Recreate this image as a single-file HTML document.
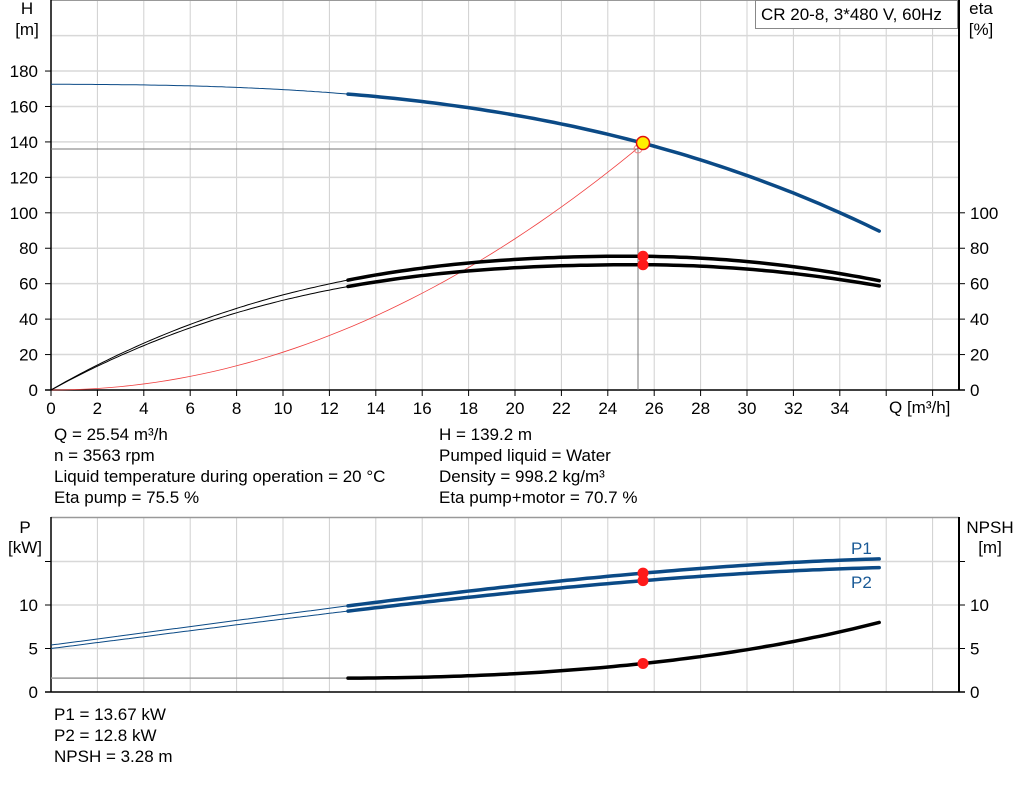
<!DOCTYPE html>
<html><head><meta charset="utf-8"><style>
body{margin:0;background:#fff;width:1024px;height:781px;overflow:hidden}
svg{font-family:"Liberation Sans",Arial,sans-serif;font-size:17px}
</style></head><body>
<svg id="s" width="1024" height="781" xmlns="http://www.w3.org/2000/svg">
<rect width="1024" height="781" fill="#fff"/>
<g id="grid"></g>
<g id="curves"></g>
<g id="txt" fill="#000">
<text x="27" y="14" text-anchor="middle">H</text><text x="27" y="35" text-anchor="middle">[m]</text>
<text x="981" y="14" text-anchor="middle">eta</text><text x="981" y="35" text-anchor="middle">[%]</text>
<text x="889" y="413">Q [m³/h]</text>
<text x="54" y="440">Q = 25.54 m³/h</text>
<text x="54" y="461">n = 3563 rpm</text>
<text x="54" y="482">Liquid temperature during operation = 20 °C</text>
<text x="54" y="503">Eta pump = 75.5 %</text>
<text x="439" y="440">H = 139.2 m</text>
<text x="439" y="461">Pumped liquid = Water</text>
<text x="439" y="482">Density = 998.2 kg/m³</text>
<text x="439" y="503">Eta pump+motor = 70.7 %</text>
<text x="25" y="533" text-anchor="middle">P</text><text x="25" y="553" text-anchor="middle">[kW]</text>
<text x="990" y="533" text-anchor="middle">NPSH</text><text x="990" y="553" text-anchor="middle">[m]</text>
<text x="54" y="720">P1 = 13.67 kW</text>
<text x="54" y="741">P2 = 12.8 kW</text>
<text x="54" y="762">NPSH = 3.28 m</text>
<text x="851" y="554" fill="#1a5a96">P1</text>
<text x="851" y="588" fill="#1a5a96">P2</text>
</g>
<rect x="755.5" y="0.5" width="202" height="28" fill="#fff" stroke="#888"/>
<text x="761" y="20">CR 20-8, 3*480 V, 60Hz</text>
</svg>
<script>
var NS="http://www.w3.org/2000/svg",g=document.getElementById('grid'),c=document.getElementById('curves'),T=document.getElementById('txt');
function el(p,tag,a){var e=document.createElementNS(NS,tag);for(var k in a)e.setAttribute(k,a[k]);p.appendChild(e);return e}
function X(q){return 51+23.2*q}
function Y1(h){return 390-1.772*h}
function Y2(p){return 692-8.7*p}
for(var q=2;q<=38;q+=2)el(g,'line',{x1:X(q),x2:X(q),y1:0,y2:390,stroke:'#d0d0d0'});
for(var h=20;h<=200;h+=20)el(g,'line',{x1:51,x2:959,y1:Y1(h),y2:Y1(h),stroke:'#d8d8d8','stroke-width':1.5});
el(g,'line',{x1:51,x2:959,y1:0.5,y2:0.5,stroke:'#999'});
el(g,'line',{x1:51,x2:51,y1:0,y2:390,stroke:'#000','stroke-width':1.5});
el(g,'line',{x1:959,x2:959,y1:0,y2:390,stroke:'#000','stroke-width':2});
el(g,'line',{x1:45,x2:965,y1:390,y2:390,stroke:'#000','stroke-width':1.5});
for(var q=0;q<=38;q+=2){el(g,'line',{x1:X(q),x2:X(q),y1:390,y2:396,stroke:'#000'});if(q<=34)el(T,'text',{x:X(q),y:414,'text-anchor':'middle'}).textContent=q;}
for(var h=0;h<=180;h+=20){el(g,'line',{x1:45,x2:51,y1:Y1(h),y2:Y1(h),stroke:'#000'});el(T,'text',{x:38,y:Y1(h)+6,'text-anchor':'end'}).textContent=h;}
for(var h=0;h<=100;h+=20){el(g,'line',{x1:959,x2:965,y1:Y1(h),y2:Y1(h),stroke:'#000'});el(T,'text',{x:970,y:Y1(h)+6}).textContent=h;}
for(var q=2;q<=38;q+=2)el(g,'line',{x1:X(q),x2:X(q),y1:517,y2:692,stroke:'#d0d0d0'});
for(var p=5;p<=15;p+=5)el(g,'line',{x1:51,x2:959,y1:Y2(p),y2:Y2(p),stroke:'#d8d8d8','stroke-width':1.5});
el(g,'line',{x1:51,x2:959,y1:517.5,y2:517.5,stroke:'#999','stroke-width':1.5});
el(g,'line',{x1:51,x2:51,y1:517,y2:692,stroke:'#000','stroke-width':1.5});
el(g,'line',{x1:959,x2:959,y1:517,y2:692,stroke:'#000','stroke-width':2});
el(g,'line',{x1:45,x2:965,y1:692,y2:692,stroke:'#000','stroke-width':1.5});
for(var p=0;p<=15;p+=5){el(g,'line',{x1:45,x2:51,y1:Y2(p),y2:Y2(p),stroke:'#000'});el(g,'line',{x1:959,x2:965,y1:Y2(p),y2:Y2(p),stroke:'#000'});
 if(p<15){el(T,'text',{x:38,y:Y2(p)+6,'text-anchor':'end'}).textContent=p;el(T,'text',{x:970,y:Y2(p)+6}).textContent=p;}}
function path(f,yf,a,b){var s='';for(var q=a;q<=b+1e-9;q+=(b-a)/80){s+=(s?'L':'M')+X(q).toFixed(1)+','+yf(f(q)).toFixed(1)}return s}
function draw(f,yf,col){el(c,'path',{d:path(f,yf,0,12.8),fill:'none',stroke:col,'stroke-width':1});
 el(c,'path',{d:path(f,yf,12.8,35.7),fill:'none',stroke:col,'stroke-width':3.5,'stroke-linecap':'round'});}
function H(q){return 172.5-0.01601*q*q-0.001372*q*q*q}
var E1=function(q){var u=q/25;return 75.5*(2*u-u*u)+(q<25?37*u*Math.pow(1-u,2):0)};
var E2=function(q){var u=q/25.3;return 70.7*(2*u-u*u)+(q<25.3?40*u*Math.pow(1-u,2):0)};
function P1(q){return 5.4+0.3453*q+0.001828*q*q-0.0001046*q*q*q}
function P2(q){return 5.0+0.3376*q+0.000996*q*q-0.0000884*q*q*q}
function NP(q){var x=q-12.8;return 1.6+0.00952*x*x+0.00000512*x*x*x*x}
var s='';for(var q=0;q<=25.54;q+=0.5){s+=(s?'L':'M')+X(q)+','+Y1(139.2*q*q/652.3)}
el(c,'path',{d:s,fill:'none',stroke:'#f04040','stroke-width':0.8});
el(c,'polyline',{points:'51,149 638,149 638,390',fill:'none',stroke:'#777','stroke-width':1});
draw(H,Y1,'#0b4a86');draw(E1,Y1,'#000');draw(E2,Y1,'#000');
draw(P1,Y2,'#0b4a86');draw(P2,Y2,'#0b4a86');
el(c,'line',{x1:51,x2:X(12.8),y1:Y2(1.6),y2:Y2(1.6),stroke:'#999','stroke-width':1.5});
el(c,'path',{d:path(NP,Y2,12.8,35.7),fill:'none',stroke:'#000','stroke-width':3.5,'stroke-linecap':'round'});
el(c,'circle',{cx:638,cy:149,r:4,fill:'none',stroke:'#f08080'});
el(c,'circle',{cx:643,cy:143,r:6.5,fill:'#ffee00',stroke:'#e01010','stroke-width':1.5});
[Y1(75.5),Y1(70.7),Y2(13.67),Y2(12.8),Y2(3.28)].forEach(function(v){el(c,'circle',{cx:643,cy:v,r:5.5,fill:'#ff1a1a'})});
</script>
</body></html>
